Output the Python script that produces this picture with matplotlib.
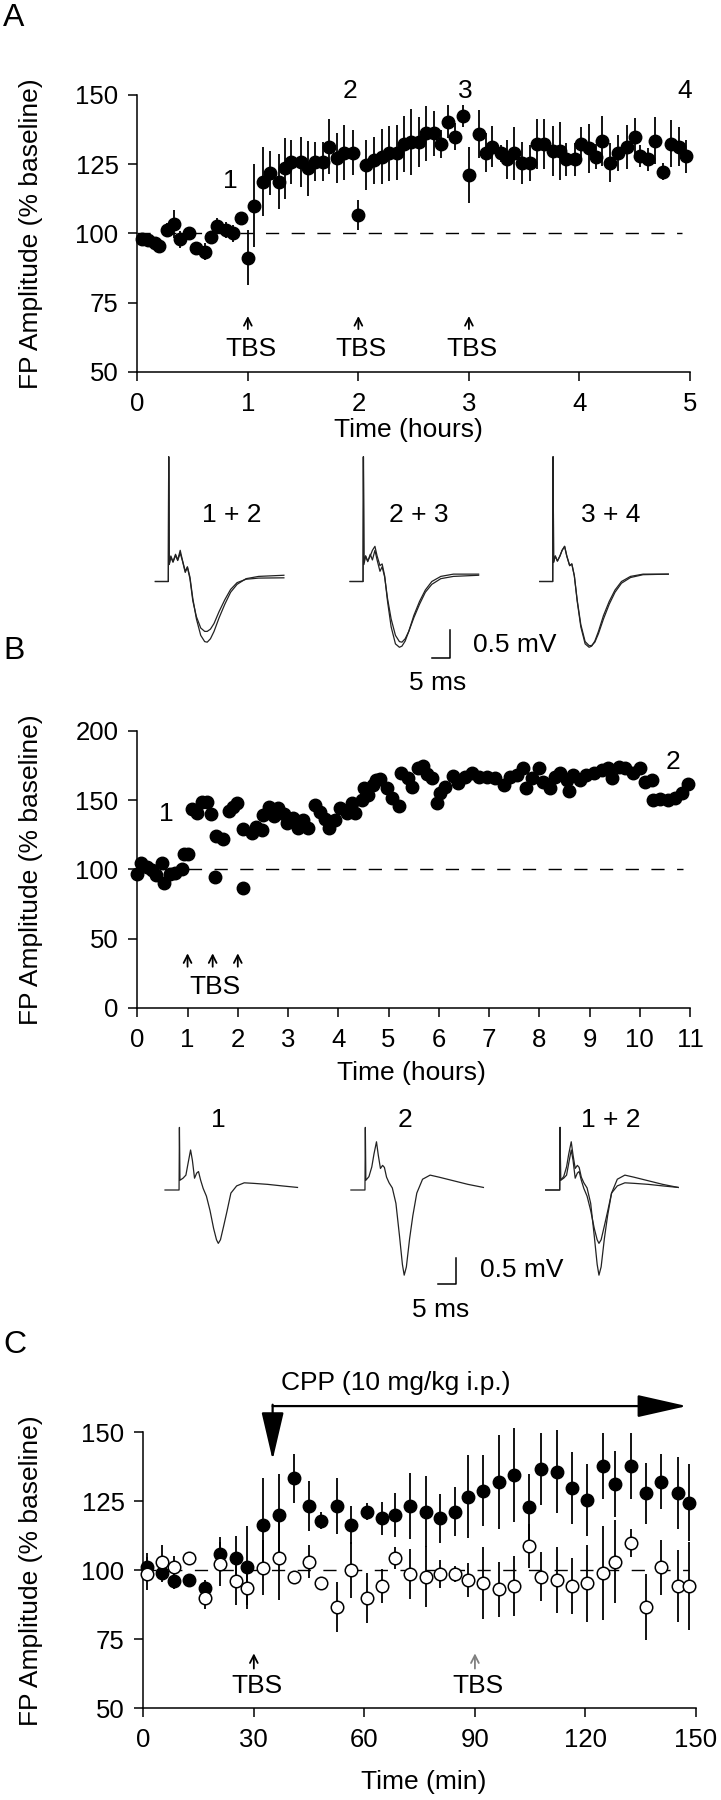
import numpy as np
import matplotlib
matplotlib.use('Agg')
import matplotlib.pyplot as plt

plt.rcParams['font.family'] = ['Liberation Sans', 'DejaVu Sans']

# ---------------- Panel A : three TBS, 5 hours ----------------
a_time = [0.04, 0.1, 0.16, 0.2, 0.27, 0.33, 0.39, 0.47, 0.53, 0.61, 0.67, 0.72, 0.80, 0.87, 0.94,
          1.0, 1.06, 1.14, 1.2, 1.28, 1.34, 1.39, 1.48, 1.54, 1.61, 1.68, 1.73, 1.81, 1.87, 1.95,
          2.0, 2.07, 2.14, 2.21, 2.28, 2.35, 2.41, 2.48, 2.55, 2.61, 2.68, 2.75, 2.81, 2.87, 2.95,
          3.0, 3.09, 3.15, 3.21, 3.29, 3.34, 3.41, 3.48, 3.55, 3.62, 3.68, 3.76, 3.82, 3.88, 3.96,
          4.01, 4.09, 4.15, 4.2, 4.28, 4.35, 4.43, 4.5, 4.55, 4.62, 4.68, 4.76, 4.83, 4.9, 4.96]
a_amp = [97.8, 97.5, 96.5, 95.3, 101.3, 103.4, 97.8, 100, 94.6, 93.4, 98.7, 102.6, 101.2, 100, 105.4,
         91.2, 109.9, 118.7, 121.7, 118.7, 123.5, 125.9, 125.9, 123.5, 125.9, 125.9, 131.3, 127.1, 129.2, 129.2,
         106.6, 124.7, 126.5, 127.7, 128.9, 129.2, 132.3, 133.1, 133.1, 136.1, 136.1, 132.3, 140.4, 135, 142.4,
         121.1, 135.9, 129.2, 131.3, 128.9, 126.7, 128.9, 125.5, 125.5, 132.3, 132.3, 129.9, 129.9, 126.7, 126.7,
         132.3, 130.7, 127.7, 133.5, 125.5, 129.2, 131.3, 134.7, 127.9, 126.7, 133.5, 122.3, 132.3, 131.3, 127.9]
a_err = [1.5, 1.5, 2, 1.5, 2.5, 5, 3, 2, 2, 3, 2, 3, 3, 3, 2,
         10, 15, 12.5, 8, 10, 11, 8, 9, 10, 7, 7, 10, 9, 10, 8,
         5.5, 9, 8.5, 10, 10, 10, 10, 12, 9, 10, 8, 5, 6, 5, 4,
         10, 8.5, 7, 7.5, 3, 7, 9.5, 7.5, 6.5, 9, 9, 9, 10.5, 6, 6,
         6, 9, 4.5, 9, 7, 6.5, 8, 7, 4, 4, 8.5, 3, 8.5, 7, 6]
a_tbs = [1, 2, 3]
a_marks = ['1', '2', '3', '4']
a_mark_t = [0.84, 1.92, 2.97, 4.95]
a_mark_v = [119, 151.5, 151.5, 151.5]

# field potentials for panel A (ms after stimulus, mV)
a_trace_t = [-3.7, -0.1, 0.0, 0.15, 0.6, 1.2, 1.9, 2.5, 3.2, 3.8, 4.6, 5.2, 5.9, 6.7, 7.7,
             8.9, 10.0, 10.7, 11.6, 12.6, 14.0, 15.6, 17.2, 19.0, 21.5, 25.0, 32.0]
a_trace_1 = [0, 0, 2.2, 0.3, 0.43, 0.34, 0.46, 0.37, 0.5, 0.37, 0.16, 0.25, 0.05, -0.34, -0.62,
             -0.82, -0.88, -0.88, -0.84, -0.74, -0.53, -0.32, -0.14, -0.02, 0.04, 0.06, 0.065]
a_trace_2 = [0, 0, 2.2, 0.3, 0.45, 0.35, 0.48, 0.38, 0.55, 0.38, 0.18, 0.26, 0.08, -0.3, -0.66,
             -0.95, -1.06, -1.07, -1.01, -0.88, -0.64, -0.4, -0.19, -0.05, 0.05, 0.09, 0.11]
a_trace_3 = [0, 0, 2.2, 0.34, 0.45, 0.36, 0.45, 0.55, 0.62, 0.45, 0.28, 0.31, 0.1, -0.35, -0.8,
             -1.1, -1.16, -1.14, -1.05, -0.88, -0.6, -0.35, -0.15, 0.0, 0.09, 0.13, 0.13]
a_trace_4 = [0, 0, 2.2, 0.34, 0.45, 0.36, 0.45, 0.55, 0.62, 0.45, 0.28, 0.31, 0.1, -0.33, -0.76,
             -1.06, -1.13, -1.13, -1.07, -0.92, -0.66, -0.4, -0.19, -0.03, 0.07, 0.12, 0.13]
a_pairs = [('1 + 2', a_trace_1, a_trace_2), ('2 + 3', a_trace_2, a_trace_3), ('3 + 4', a_trace_3, a_trace_4)]

# ---------------- Panel B : 11 hours ----------------
b_time = [0.0, 0.07, 0.19, 0.29, 0.38, 0.5, 0.54, 0.65, 0.75, 0.88, 0.92, 1.0, 1.08, 1.18, 1.28, 1.38,
          1.46, 1.55, 1.57, 1.71, 1.83, 1.91, 1.99, 2.1, 2.11, 2.28, 2.36, 2.48, 2.5, 2.63, 2.72, 2.81,
          2.92, 2.97, 3.1, 3.2, 3.3, 3.4, 3.54, 3.64, 3.74, 3.82, 3.93, 4.03, 4.17, 4.27, 4.33, 4.47,
          4.51, 4.6, 4.7, 4.76, 4.83, 4.96, 5.06, 5.2, 5.25, 5.39, 5.46, 5.59, 5.68, 5.77, 5.86, 5.96,
          6.03, 6.12, 6.29, 6.39, 6.52, 6.66, 6.81, 6.95, 7.12, 7.29, 7.42, 7.55, 7.68, 7.74, 7.85, 8.0,
          8.08, 8.22, 8.31, 8.41, 8.55, 8.6, 8.68, 8.81, 8.94, 9.08, 9.24, 9.37, 9.44, 9.58, 9.71, 9.87,
          10.01, 10.1, 10.24, 10.27, 10.4, 10.57, 10.7, 10.84, 10.97]
b_amp = [97, 104.8, 101.4, 99.5, 95.9, 104.3, 90.4, 97, 97.6, 100, 111, 111, 143.4, 141, 149, 149,
         140, 94.7, 124, 121.7, 142.2, 145.3, 148.2, 86.3, 128.9, 126.5, 130.8, 128.4, 139.3, 145.3, 138.6, 144,
         140, 133.3, 136.9, 129.6, 135.7, 129.6, 146.5, 141.7, 136.1, 129.6, 135.7, 144, 141, 148.2, 140.5, 150.1,
         158.6, 153.7, 161, 164.6, 165, 158.6, 151.3, 145.8, 169.9, 165.8, 159.8, 173, 174.7, 168.9, 165.8, 148.2,
         154.9, 159.8, 167.5, 162.7, 167, 169.4, 166.5, 167, 165.8, 161, 167, 168.2, 173, 158.6, 165.8, 173,
         163.4, 158.6, 167, 169.4, 164.6, 156.9, 168.2, 164.6, 168.2, 169.9, 171.8, 173, 165.8, 174.2, 173, 169.4,
         173, 163.4, 164.6, 150.1, 150.6, 150.1, 151.3, 154.9, 161.7]
b_tbs = [1, 1.5, 2]

b_trace_t = [-4.0, -0.1, 0.0, 0.15, 1.0, 1.8, 2.4, 3.1, 3.6, 4.2, 4.8, 5.3, 5.9, 6.6, 7.5,
             8.5, 9.5, 10.3, 10.8, 11.4, 12.3, 13.2, 14.3, 15.9, 18.0, 20.5, 24.5, 28.5, 32.8]
b_trace_1 = [0, 0, 1.22, 0.19, 0.23, 0.29, 0.52, 0.78, 0.58, 0.23, 0.33, 0.36, 0.19, 0.03, -0.12,
             -0.4, -0.75, -0.97, -1.04, -0.97, -0.7, -0.42, -0.06, 0.08, 0.14, 0.13, 0.11, 0.08, 0.05]
b_trace_2 = [0, 0, 1.22, 0.19, 0.26, 0.45, 0.7, 0.94, 0.68, 0.42, 0.48, 0.44, 0.25, 0.14, 0.04,
             -0.26, -0.9, -1.45, -1.66, -1.5, -0.95, -0.5, -0.06, 0.21, 0.29, 0.25, 0.18, 0.11, 0.05]

# ---------------- Panel C : CPP ----------------
c_time = [0.9, 5.0, 8.3, 12.5, 16.7, 20.8, 25.1, 28.2, 32.5, 36.7, 40.8, 45, 48.3, 52.6, 56.5, 60.7,
          64.9, 68.2, 72.3, 76.6, 80.6, 84.7, 88.1, 92.3, 96.5, 100.7, 104.8, 108, 112.2, 116.4, 120.3,
          124.8, 128.1, 132.3, 136.4, 140.5, 145, 148]
c_tbs_amp = [101.3, 98.9, 96.3, 96.5, 93.5, 105.9, 104.6, 101.1, 116.4, 120, 133.3, 123.3, 118, 123.3, 116.4, 121.3,
             118.8, 120, 123.3, 121.3, 118.8, 121.3, 126.7, 128.9, 132.1, 134.5, 123, 136.6, 135.7, 129.7, 125.5,
             137.9, 131.2, 137.9, 127.9, 132.1, 127.9, 124.5]
c_tbs_err = [5, 3, 3, 2, 3, 6, 8, 15, 17, 15, 9, 9, 3, 10, 7, 3,
             6, 8, 12, 13, 9, 9, 15, 13, 17, 17, 12, 13, 15, 13, 13,
             12, 12, 12, 11, 10, 13, 14]
c_cpp_amp = [98.7, 103.1, 101.1, 104.3, 89.9, 102.3, 96.3, 93.5, 101, 104.3, 97.7, 103.1, 95.5, 86.8, 100.1, 89.9,
             94.3, 104.3, 98.7, 97.7, 98.7, 98.7, 96.5, 95.3, 93.1, 94.3, 108.8, 97.7, 96.5, 94.3, 95.3,
             98.9, 103.1, 110, 86.6, 101.1, 94.3, 94.3]
c_cpp_err = [6, 6, 4, 1, 4, 8, 9, 6, 10, 15, 1, 6, 2, 9, 10, 9,
             6, 4, 9, 11, 5, 3, 6, 13, 10, 11, 8, 9, 12, 10, 14,
             17, 15, 5, 12, 10, 13, 16]
c_tbs = [30, 90]
c_tbs_color = ['black', '0.5']

FS = 19
FS_TICK = 18.5
LW = 1.1
MS = 9

fig = plt.figure(figsize=(7.21, 18), dpi=100)


def px_axes(left, top, right, bottom):
    # axes from pixel box of the 721x1800 figure
    return fig.add_axes([left / 721, 1 - bottom / 1800, (right - left) / 721, (bottom - top) / 1800])


def style(ax, xl, yl):
    for s in ['top', 'right']:
        ax.spines[s].set_visible(False)
    for s in ['left', 'bottom']:
        ax.spines[s].set_linewidth(LW)
    ax.tick_params(axis='both', direction='out', length=6.5, width=LW, labelsize=FS_TICK)
    ax.tick_params(axis='x', pad=8)
    ax.tick_params(axis='y', pad=7)
    ax.set_ylabel('FP Amplitude (% baseline)', fontsize=FS)
    ax.set_xlabel(xl, fontsize=FS)
    ax.yaxis.set_label_coords(yl, 0.5)


def tbs_arrow(ax, x, tip, base, color='black'):
    ax.annotate('', xy=(x, tip), xytext=(x, base),
                arrowprops=dict(arrowstyle='->,head_length=0.55,head_width=0.28', color=color,
                                lw=1.3, shrinkA=0, shrinkB=0, mutation_scale=10))


# ---- A ----
ax = px_axes(137.3, 95, 690, 371.7)
ax.plot([0, 4.93], [100, 100], color='black', lw=1.0, dashes=(9.5, 9), zorder=1)
ax.errorbar(a_time, a_amp, yerr=a_err, fmt='o', color='black', ms=MS, elinewidth=1.3,
            capsize=0, clip_on=False, zorder=3)
ax.set_xlim(0, 5)
ax.set_ylim(50, 150)
ax.set_xticks(range(6))
ax.set_yticks([50, 75, 100, 125, 150])
style(ax, 'Time (hours)', -0.1706)
ax.xaxis.set_label_coords(0.4897, -0.21)
ax.xaxis.label.set_va('center')
for t in a_tbs:
    tbs_arrow(ax, t, 70.1, 65.4)
    ax.text(t + 0.025, 58.2, 'TBS', ha='center', va='center', fontsize=FS)
for m, t, v in zip(a_marks, a_mark_t, a_mark_v):
    ax.text(t, v, m, ha='center', va='center', fontsize=FS)

# traces A  (3.6 px per ms, 56.7 px per mV)
tr = px_axes(100, 440, 700, 700)
tr.set_xlim(0, 600 / 3.6)
tr.set_ylim(-118.5 / 56.7, 141.5 / 56.7)
tr.axis('off')
a_stim = [19.08, 73.17, 125.86]
a_lbl_x = [36.5, 88.5, 141.8]
for (lbl, p, q), x0, lx in zip(a_pairs, a_stim, a_lbl_x):
    tr.plot(np.array(a_trace_t) + x0, p, color='#222222', lw=0.9)
    tr.plot(np.array(a_trace_t) + x0, q, color='#222222', lw=0.9)
    tr.text(lx, 1.173, lbl, ha='center', va='center', fontsize=FS)
tr.plot([97.3 - 5, 97.3, 97.3], [-1.354, -1.354, -1.354 + 0.5], color='black', lw=1.1)
tr.text(103.5, -1.12, '0.5 mV', ha='left', va='center', fontsize=FS)
tr.text(93.75, -1.79, '5 ms', ha='center', va='center', fontsize=FS)

# ---- B ----
ax = px_axes(137.3, 731, 690, 1007.7)
ax.plot([0, 10.87], [100, 100], color='black', lw=1.0, dashes=(9.5, 9), zorder=1)
ax.plot(b_time, b_amp, 'o', color='black', ms=MS, clip_on=False, zorder=3)
ax.set_xlim(0, 11)
ax.set_ylim(0, 200)
ax.set_xticks(range(12))
ax.set_yticks([0, 50, 100, 150, 200])
style(ax, 'Time (hours)', -0.1706)
ax.xaxis.set_label_coords(0.4965, -0.236)
ax.xaxis.label.set_va('center')
for t in b_tbs:
    tbs_arrow(ax, t, 39.3, 29.6)
ax.text(1.55, 14.7, 'TBS', ha='center', va='center', fontsize=FS)
ax.text(0.58, 140, '1', ha='center', va='center', fontsize=FS)
ax.text(10.67, 177.8, '2', ha='center', va='center', fontsize=FS)

# traces B  (3.6 px per ms, 51.3 px per mV)
tr = px_axes(100, 1100, 700, 1320)
tr.set_xlim(0, 600 / 3.6)
tr.set_ylim(-130 / 51.3, 90 / 51.3)
tr.axis('off')
bt = np.array(b_trace_t)
tr.plot(bt + 22.06, b_trace_1, color='#222222', lw=0.9)
tr.plot(bt + 73.7, b_trace_2, color='#222222', lw=0.9)
tr.plot(bt + 127.8, b_trace_1, color='#222222', lw=0.9)
tr.plot(bt + 127.8, b_trace_2, color='#222222', lw=0.9)
tr.text(32.9, 1.36, '1', ha='center', va='center', fontsize=FS)
tr.text(84.6, 1.36, '2', ha='center', va='center', fontsize=FS)
tr.text(141.8, 1.36, '1 + 2', ha='center', va='center', fontsize=FS)
tr.plot([98.9 - 5, 98.9, 98.9], [-1.832, -1.832, -1.832 + 0.5], color='black', lw=1.1)
tr.text(105.6, -1.56, '0.5 mV', ha='left', va='center', fontsize=FS)
tr.text(94.7, -2.34, '5 ms', ha='center', va='center', fontsize=FS)

# ---- C ----
ax = px_axes(143.3, 1432.3, 696, 1708.3)
ax.plot([0, 148], [100, 100], color='black', lw=1.0, dashes=(9.5, 9), zorder=1)
ax.errorbar(c_time, c_tbs_amp, yerr=c_tbs_err, fmt='o', color='black', ms=MS, elinewidth=1.3,
            capsize=0, clip_on=False, zorder=3)
ax.errorbar(c_time, c_cpp_amp, yerr=c_cpp_err, fmt='o', color='black', mfc='white', mec='black',
            mew=1.1, ms=MS, elinewidth=1.3, capsize=0, clip_on=False, zorder=4)
ax.set_xlim(0, 150)
ax.set_ylim(50, 150)
ax.set_xticks([0, 30, 60, 90, 120, 150])
ax.set_yticks([50, 75, 100, 125, 150])
style(ax, 'Time (min)', -0.1815)
ax.xaxis.set_label_coords(0.5066, -0.266)
ax.xaxis.label.set_va('center')
for t, col in zip(c_tbs, c_tbs_color):
    tbs_arrow(ax, t, 69.9, 64.4, color=col)
    ax.text(t + 0.8, 57.9, 'TBS', ha='center', va='center', fontsize=FS)
# CPP injection bracket
ax.annotate('', xy=(147.5, 159.5), xytext=(35.1, 159.5), annotation_clip=False,
            arrowprops=dict(arrowstyle='-|>,head_length=3.1,head_width=0.7', color='black',
                            lw=1.6, shrinkA=0, shrinkB=0, mutation_scale=10))
ax.annotate('', xy=(35.1, 140), xytext=(35.1, 160.0), annotation_clip=False,
            arrowprops=dict(arrowstyle='-|>,head_length=3.0,head_width=0.7', color='black',
                            lw=1.6, shrinkA=0, shrinkB=0, mutation_scale=10))
ax.text(68.6, 167.8, 'CPP (10 mg/kg i.p.)', ha='center', va='center', fontsize=FS)

# panel letters
fig.text(14 / 721, 1 - 18 / 1800, 'A', ha='center', va='center', fontsize=23)
fig.text(14 / 721, 1 - 651 / 1800, 'B', ha='center', va='center', fontsize=23)
fig.text(15 / 721, 1 - 1345 / 1800, 'C', ha='center', va='center', fontsize=23)

fig.savefig('out.png', dpi=100)
